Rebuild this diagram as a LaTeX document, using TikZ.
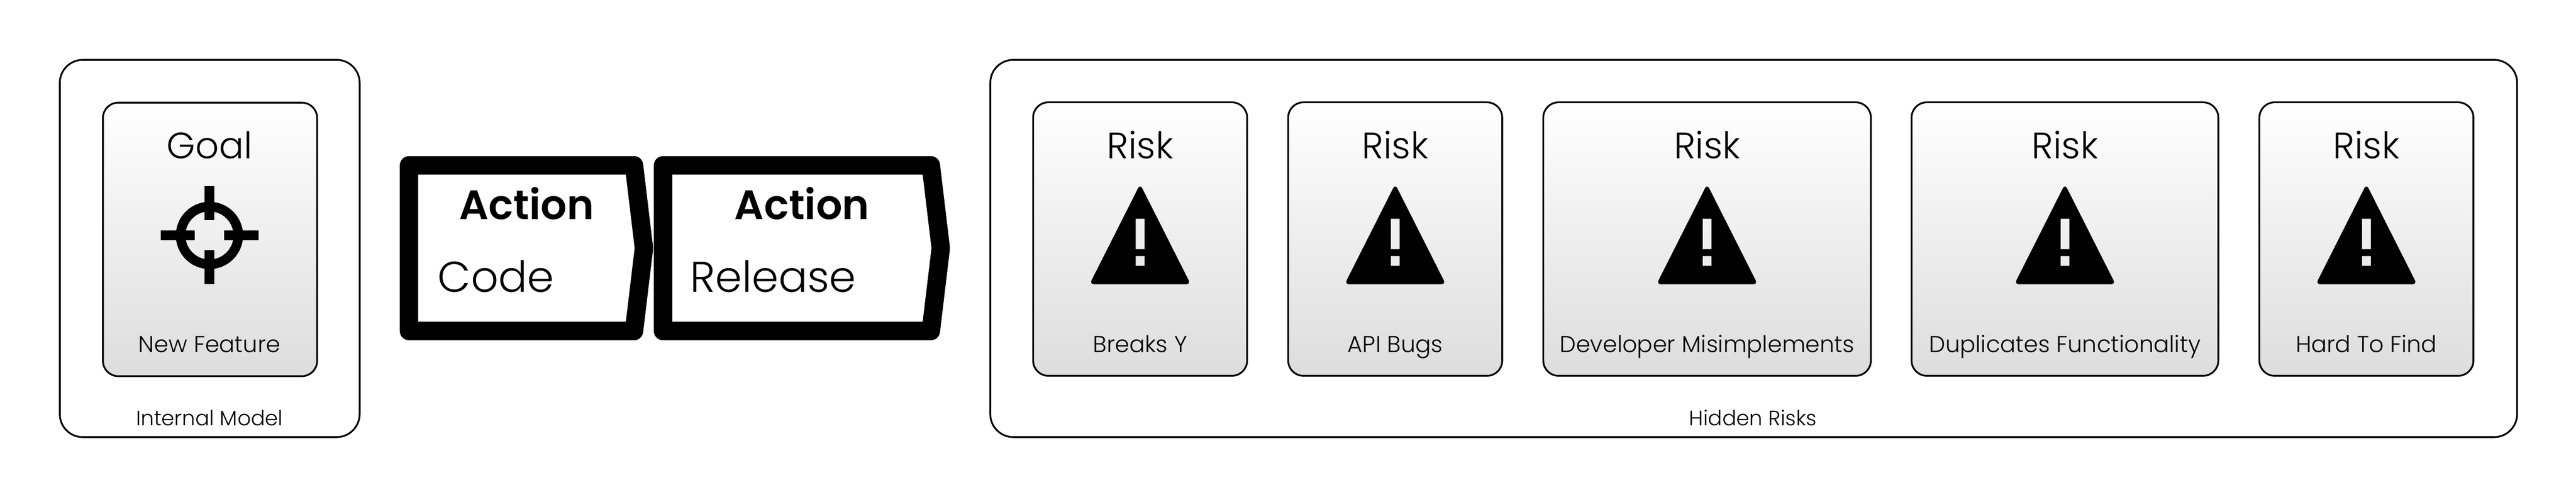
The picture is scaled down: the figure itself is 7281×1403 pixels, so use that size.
\documentclass[tikz,border=0pt]{standalone}
\usepackage{fontspec}
\setmainfont{Poppins Light}[BoldFont={Poppins SemiBold}]
\usetikzlibrary{calc}
\usetikzlibrary{positioning}

\definecolor{cardtop}{HTML}{FFFFFF}
\definecolor{cardbottom}{HTML}{DDDDDD}

\tikzset{
  modelbox/.style={draw=black,line width=0.05cm,rounded corners=0.65cm,fill=white,anchor=north west,inner sep=0pt,outer sep=0pt},
  cardbox/.style={draw=black,line width=0.05cm,rounded corners=0.43cm,top color=cardtop,bottom color=cardbottom,anchor=north west,inner sep=0pt,outer sep=0pt},
  actionshape/.style={draw=black,line width=0.52cm,line join=round,fill=white},
  headtext/.style={font=\fontsize{29.5}{34}\selectfont,anchor=base},
  cardtext/.style={font=\fontsize{18.5}{22}\selectfont,anchor=base},
  boxtext/.style={font=\fontsize{16.8}{20}\selectfont,anchor=base},
  acttext/.style={font=\fontsize{34.5}{40}\selectfont,anchor=base},
  acthead/.style={font=\fontsize{33}{40}\selectfont\bfseries,anchor=base}
}

\begin{document}
\begin{tikzpicture}[x=0.01cm,y=-0.01cm]
  \useasboundingbox (0,0) rectangle (7281,1403);

  % Internal Model
  \node[modelbox,minimum width=8.47cm,minimum height=10.65cm] (model) at (169,169) {};
  \node[boxtext] (modellabel) at (592,1202) {Internal Model};
  \node[cardbox,minimum width=6.05cm,minimum height=7.72cm] (goalcard) at (291,290) {};
  \node[headtext] (goaltitle) at (592,448) {Goal};
  \node[cardtext] (goallabel) at (592,995) {New Feature};
  \draw[line width=0.27cm] (592,665) circle (81.5);
  \foreach \a/\b/\c/\d in {592/525/592/622,592/706/592/803,454/665/551/665,634/665/731/665}
    \draw[line width=0.27cm] (\a,\b) -- (\c,\d);

  % Actions
  \draw[actionshape] (1156,467) -- (1792,467) -- (1820,701) -- (1792,935) -- (1156,935) -- cycle;
  \draw[actionshape] (1874,467) -- (2631,467) -- (2659,701) -- (2631,935) -- (1874,935) -- cycle;
  \node[acthead] (codehead) at (1489,620) {Action};
  \node[acthead] (releasehead) at (2267,620) {Action};
  \node[acttext,anchor=base west,inner sep=0pt] (codelabel) at (1237,825) {Code};
  \node[acttext,anchor=base west,inner sep=0pt] (releaselabel) at (1950,825) {Release};

  % Hidden Risks
  \node[modelbox,minimum width=43.13cm,minimum height=10.65cm] (risks) at (2799,169) {};
  \node[boxtext] (riskslabel) at (4955,1202) {Hidden Risks};

  \foreach \x/\y/\name/\text in {2920/3525/a/Breaks Y,3641/4246/b/API Bugs,4362/5288/c/Developer Misimplements,5403/6270/d/Duplicates Functionality,6386/6991/e/Hard To Find}
  {
    \node[cardbox,minimum width={(\y-\x)*0.01cm},minimum height=7.72cm] (card\name) at (\x,289) {};
    \node[headtext] (title\name) at ({(\x+\y)/2},448) {Risk};
    \node[cardtext] (label\name) at ({(\x+\y)/2},995) {\text};
    % Warndreieck
    \fill[even odd rule,shift={({(\x+\y)/2},0)}]
      [rounded corners=0.13cm] (0,520) -- (143,803) -- (-143,803) -- cycle
      [sharp corners] (-12.5,618) rectangle (12.5,704) (-12.5,723) rectangle (12.5,751);
  }
\end{tikzpicture}
\end{document}
